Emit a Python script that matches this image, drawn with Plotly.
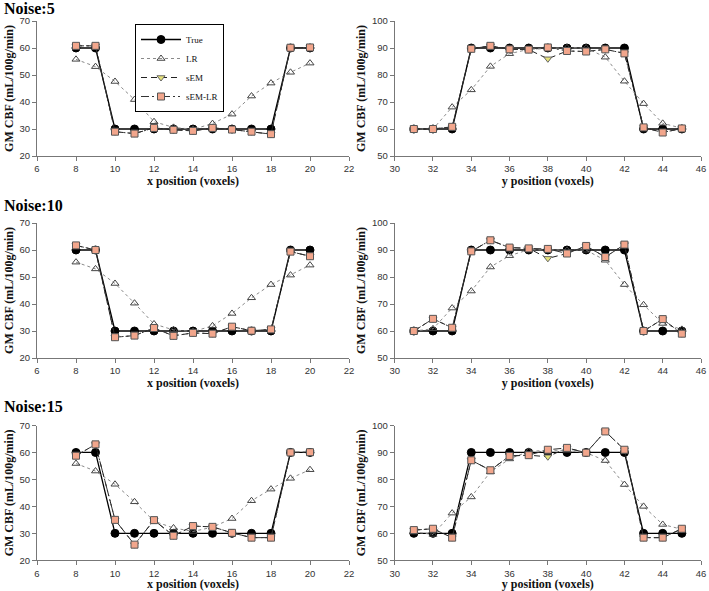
import plotly.graph_objects as go
from plotly.subplots import make_subplots

# ---------------- data ----------------
x_pos = [8, 9, 10, 11, 12, 13, 14, 15, 16, 17, 18, 19, 20]
y_pos = [31, 32, 33, 34, 35, 36, 37, 38, 39, 40, 41, 42, 43, 44, 45]

true_x = [60, 60, 30, 30, 30, 30, 30, 30, 30, 30, 30, 60, 60]
true_y = [60, 60, 60, 90, 90, 90, 90, 90, 90, 90, 90, 90, 60, 60, 60]

# Noise 5
lr_x_5 = [55.8, 53.1, 47.6, 40.9, 32.7, 30.6, 29.9, 32.0, 35.5, 42.2, 47.0, 51.0, 54.4]
sem_x_5 = [60.8, 60.8, 29.0, 28.3, 30.4, 29.7, 29.3, 30.4, 29.8, 29.0, 28.1, 60.1, 60.2]
semlr_x_5 = [60.8, 60.8, 29.0, 28.3, 30.4, 29.7, 29.3, 30.4, 29.8, 29.0, 28.1, 60.1, 60.2]
lr_y_5 = [60.0, 60.0, 68.1, 74.5, 83.2, 87.9, 89.5, 89.9, 90.1, 90.0, 86.6, 77.7, 69.4, 62.1, 60.3]
sem_y_5 = [60.0, 60.0, 60.8, 89.7, 90.8, 89.5, 89.4, 86.0, 88.9, 88.7, 89.5, 88.0, 60.6, 58.7, 60.2]
semlr_y_5 = [60.0, 60.0, 60.8, 89.7, 90.8, 89.5, 89.4, 90.2, 88.9, 88.7, 89.5, 88.0, 60.6, 58.7, 60.2]

# Noise 10
lr_x_10 = [55.5, 53.0, 47.6, 40.3, 32.6, 30.4, 29.8, 31.9, 36.5, 42.3, 47.2, 50.7, 54.4]
sem_x_10 = [61.7, 60.0, 27.7, 28.3, 31.1, 28.2, 29.3, 29.0, 31.6, 30.1, 30.6, 59.4, 57.7]
semlr_x_10 = [61.7, 60.0, 27.7, 28.3, 31.1, 28.2, 29.3, 29.0, 31.6, 30.1, 30.6, 59.4, 57.7]
lr_y_10 = [60.0, 60.8, 68.5, 74.8, 83.7, 87.9, 90.1, 90.0, 89.9, 89.9, 86.2, 77.2, 69.7, 62.8, 60.6]
sem_y_10 = [60.0, 64.5, 61.2, 89.5, 93.6, 90.9, 90.6, 86.9, 88.7, 91.5, 87.4, 92.0, 60.0, 64.4, 59.0]
semlr_y_10 = [60.0, 64.5, 61.2, 89.5, 93.6, 90.9, 90.6, 90.4, 88.7, 91.5, 87.4, 92.0, 60.0, 64.4, 59.0]

# Noise 15
lr_x_15 = [55.9, 53.1, 48.2, 41.7, 34.5, 32.0, 30.7, 32.3, 35.5, 42.1, 46.4, 50.4, 53.6]
sem_x_15 = [58.8, 63.0, 35.0, 25.8, 34.9, 29.1, 32.7, 32.4, 30.2, 28.4, 28.4, 60.0, 60.1]
semlr_x_15 = [58.8, 63.0, 35.0, 25.8, 34.9, 29.1, 32.7, 32.4, 30.2, 28.4, 28.4, 60.0, 60.1]
lr_y_15 = [60.5, 59.6, 67.5, 73.5, 82.8, 87.6, 90.4, 90.8, 90.8, 89.9, 87.0, 78.1, 70.0, 63.3, 61.5]
sem_y_15 = [61.2, 61.7, 58.4, 87.1, 83.4, 88.7, 89.0, 88.4, 91.7, 89.9, 97.8, 91.0, 58.4, 58.4, 61.7]
semlr_y_15 = [61.2, 61.7, 58.4, 87.1, 83.4, 88.7, 89.0, 91.0, 91.7, 89.9, 97.8, 91.0, 58.4, 58.4, 61.7]

noise_labels = ["Noise:5", "Noise:10", "Noise:15"]
series_names = ["True", "LR", "sEM", "sEM-LR"]
x_title = "x position (voxels)"
y_title = "y position (voxels)"
yaxis_title = "GM CBF (mL/100g/min)"

rows_data = [
    (lr_x_5, sem_x_5, semlr_x_5, lr_y_5, sem_y_5, semlr_y_5),
    (lr_x_10, sem_x_10, semlr_x_10, lr_y_10, sem_y_10, semlr_y_10),
    (lr_x_15, sem_x_15, semlr_x_15, lr_y_15, sem_y_15, semlr_y_15),
]

# ---------------- styles ----------------
W, H = 709, 591
MB = 30            # bottom margin (room for the last x-axis title)
PH = H - MB        # plot-area height
styles = {
    "True": dict(line=dict(color="#000000", width=1.3, dash="solid"),
                 marker=dict(symbol="circle", size=8, color="#000000",
                             line=dict(color="#000000", width=1))),
    "LR": dict(line=dict(color="#8a8a8a", width=1, dash="dot"),
               marker=dict(symbol="triangle-up-open", size=7, color="#444444",
                           line=dict(color="#444444", width=1))),
    "sEM": dict(line=dict(color="#222222", width=1, dash="6px,4px"),
                marker=dict(symbol="triangle-down", size=7, color="#e6e27a",
                            line=dict(color="#666666", width=1))),
    "sEM-LR": dict(line=dict(color="#333333", width=1, dash="8px,3px,2px,3px,2px,3px"),
                   marker=dict(symbol="square", size=7, color="#f2a68c",
                               line=dict(color="#555555", width=1))),
}

fig = make_subplots(rows=3, cols=2)

for r, (lrx, semx, semlrx, lry, semy, semlry) in enumerate(rows_data, start=1):
    for c, (pos, tru, lr, sem, semlr) in enumerate(
        [(x_pos, true_x, lrx, semx, semlrx), (y_pos, true_y, lry, semy, semlry)], start=1
    ):
        for name, vals in zip(series_names, [tru, lr, sem, semlr]):
            fig.add_trace(
                go.Scatter(
                    x=pos, y=vals, mode="lines+markers", name=name,
                    line=styles[name]["line"], marker=styles[name]["marker"],
                    showlegend=(r == 1 and c == 1),
                ),
                row=r, col=c,
            )

# domains (pixels -> plot-area fractions)
x_doms = [(37, 349), (394.7, 701)]
y_doms = [(21, 156), (223, 358), (425.5, 560.3)]

tick_font = dict(family="Liberation Sans, Arial, sans-serif", size=9.5, color="#333333")
serif = "Liberation Serif, Times New Roman, serif"

for r in range(1, 4):
    for c in range(1, 3):
        idx = (r - 1) * 2 + c
        xs = "xaxis" if idx == 1 else f"xaxis{idx}"
        ys = "yaxis" if idx == 1 else f"yaxis{idx}"
        x0, x1 = x_doms[c - 1]
        t, b = y_doms[r - 1]
        xr = [6, 22] if c == 1 else [30, 46]
        yr = [20, 70] if c == 1 else [50, 100]
        fig.layout[xs].update(
            domain=[x0 / W, x1 / W], range=xr, dtick=2, tick0=0,
            showline=True, linecolor="#777777", linewidth=1,
            ticks="outside", ticklen=4, tickcolor="#777777",
            showgrid=False, zeroline=False, tickfont=tick_font, automargin=True,
            title=dict(text=x_title if c == 1 else y_title,
                       font=dict(family=serif, size=12, color="#111111", weight="bold"),
                       standoff=3),
        )
        fig.layout[ys].update(
            domain=[max(0.0, 1 - b / PH), 1 - t / PH], range=yr, dtick=10,
            showline=True, linecolor="#777777", linewidth=1,
            ticks="outside", ticklen=4, tickcolor="#777777",
            showgrid=False, zeroline=False, tickfont=tick_font, automargin=True,
            title=dict(text=yaxis_title,
                       font=dict(family=serif, size=12, color="#111111", weight="bold"),
                       standoff=3),
        )

# row titles
for lbl, ypx in zip(noise_labels, [9, 205, 406]):
    fig.add_annotation(
        text="<b>" + lbl + "</b>", xref="paper", yref="paper",
        x=2 / W, y=1 - ypx / PH, xanchor="left", yanchor="middle",
        showarrow=False, font=dict(family=serif, size=16, color="#000000"),
    )

fig.update_layout(
    width=W, height=H,
    margin=dict(l=0, r=0, t=0, b=MB, autoexpand=False),
    paper_bgcolor="white", plot_bgcolor="white",
    legend=dict(
        x=135 / W, y=1 - 24 / PH, xanchor="left", yanchor="top",
        bgcolor="white", bordercolor="#000000", borderwidth=1,
        font=dict(family=serif, size=9, color="#111111"),
        tracegroupgap=0, itemwidth=40,
    ),
    showlegend=True,
)

fig.write_html(
    "out.html",
    config={"displayModeBar": False},
    post_script="document.body.style.margin='0';document.body.style.overflow='hidden';",
)
